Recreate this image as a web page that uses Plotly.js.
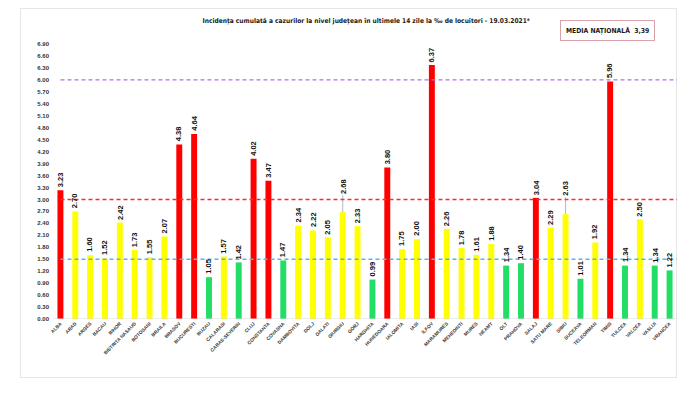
<!DOCTYPE html>
<html>
<head>
<meta charset="utf-8">
<script src="https://cdn.plot.ly/plotly-3.0.1.min.js"></script>
<style>
  html, body { margin: 0; padding: 0; background: #ffffff; }
  #wrap { position: relative; width: 700px; height: 394px; }
  #frame { position: absolute; left: 20px; top: 8px; width: 657px; height: 370px; border: 1px solid #e6e6e6; box-sizing: border-box; pointer-events: none; }
  #chart { position: absolute; left: 0; top: 0; width: 700px; height: 394px; }
</style>
</head>
<body>
<div id="wrap">
  <div id="frame"></div>
  <div id="chart"></div>
</div>
<script>
const counties = ["ALBA","ARAD","ARGES","BACAU","BIHOR","BISTRITA NASAUD","BOTOSANI","BRAILA","BRASOV","BUCURESTI","BUZAU","CALARASI","CARAS-SEVERIN","CLUJ","CONSTANTA","COVASNA","DAMBOVITA","DOLJ","GALATI","GIURGIU","GORJ","HARGHITA","HUNEDOARA","IALOMITA","IASI","ILFOV","MARAMURES","MEHEDINTI","MURES","NEAMT","OLT","PRAHOVA","SALAJ","SATU MARE","SIBIU","SUCEAVA","TELEORMAN","TIMIS","TULCEA","VALCEA","VASLUI","VRANCEA"];
const incidence = [3.23,2.70,1.60,1.52,2.42,1.73,1.55,2.07,4.38,4.64,1.05,1.57,1.42,4.02,3.47,1.47,2.34,2.22,2.05,2.68,2.33,0.99,3.80,1.75,2.00,6.37,2.26,1.78,1.61,1.88,1.34,1.40,3.04,2.29,2.63,1.01,1.92,5.96,1.34,2.50,1.34,1.22];
const leaderLabelCounties = ["GIURGIU", "SIBIU"];
const thresholds = [1.5, 3.0, 6.0];
const thresholdColors = ["#5ab4e6", "#ff2a2a", "#a877e0"];
const yTicks = [0,0.3,0.6,0.9,1.2,1.5,1.8,2.1,2.4,2.7,3.0,3.3,3.6,3.9,4.2,4.5,4.8,5.1,5.4,5.7,6.0,6.3,6.6,6.9];
const nationalAverage = "3,39";
const titleText = "Incidența cumulată a cazurilor la nivel județean în ultimele 14 zile la ‰ de locuitori - 19.03.2021*";

function colorFor(v) {
  if (v >= 3) return "#ff0000";
  if (v >= 1.5) return "#ffff00";
  return "#22dd66";
}

const trace = {
  type: "bar",
  x: counties,
  y: incidence,
  marker: { color: incidence.map(colorFor) },
  hoverinfo: "x+y"
};

const labelFont = { family: "Liberation Sans, Arial, sans-serif", size: 7.5, color: "#111", weight: "bold" };

const valueLabels = counties.map((c, i) => {
  const v = incidence[i];
  const base = {
    xref: "x", yref: "y", x: c, y: v,
    text: v.toFixed(2), textangle: -90,
    font: labelFont
  };
  if (leaderLabelCounties.includes(c)) {
    return Object.assign(base, {
      showarrow: true, ax: 0, ay: -26, arrowhead: 0, arrowwidth: 0.6,
      arrowcolor: "#888", standoff: 0, startstandoff: 0
    });
  }
  return Object.assign(base, { showarrow: false, yanchor: "bottom", xanchor: "center", yshift: 1 });
});

const shapes = thresholds.map((t, i) => ({
  type: "line", xref: "paper", yref: "y", x0: 0.012, x1: 1, y0: t, y1: t,
  layer: "above",
  line: { color: thresholdColors[i], width: 1.4, dash: "4px,3px" }
}));
shapes.push({
  type: "line", xref: "paper", yref: "y", x0: 0, x1: 1, y0: 0, y1: 0,
  line: { color: "#d9d9d9", width: 1 }
});

const layout = {
  width: 700, height: 394,
  margin: { l: 53, r: 23, t: 44, b: 75 },
  paper_bgcolor: "rgba(0,0,0,0)",
  plot_bgcolor: "rgba(0,0,0,0)",
  bargap: 0.6,
  showlegend: false,
  title: {
    text: titleText,
    x: 0.502, xref: "paper", xanchor: "center",
    y: 0.948, yref: "container", yanchor: "middle",
    font: { family: "Liberation Sans Narrow, DejaVu Sans Condensed, Arial Narrow, sans-serif", size: 6.6, color: "#1a1a1a", weight: "bold" }
  },
  xaxis: {
    type: "category",
    tickangle: -45,
    tickfont: { family: "Liberation Sans, Arial, sans-serif", size: 4.8, color: "#333", weight: "bold" },
    showgrid: false, zeroline: false, showline: false, ticks: "",
    automargin: false
  },
  yaxis: {
    range: [0, 6.9],
    tickmode: "array",
    tickvals: yTicks,
    ticktext: yTicks.map(v => v.toFixed(2)),
    tickfont: { family: "Liberation Sans, Arial, sans-serif", size: 6, color: "#333", weight: "bold" },
    showgrid: false, zeroline: false, showline: false, ticks: "",
    ticklabelstandoff: 3,
    automargin: false
  },
  shapes: shapes,
  annotations: valueLabels.concat([{
    text: "MEDIA NAȚIONALĂ  " + nationalAverage,
    xref: "paper", yref: "paper",
    x: 0.965, y: 1.01, xanchor: "right", yanchor: "bottom",
    showarrow: false,
    font: { family: "Liberation Sans Narrow, DejaVu Sans Condensed, Arial, sans-serif", size: 6.8, color: "#1a1a1a", weight: "bold" },
    bordercolor: "#d8a2aa", borderwidth: 1, borderpad: 5, bgcolor: "#ffffff"
  }])
};

Plotly.newPlot("chart", [trace], layout, { displayModeBar: false, staticPlot: true });
</script>
</body>
</html>
